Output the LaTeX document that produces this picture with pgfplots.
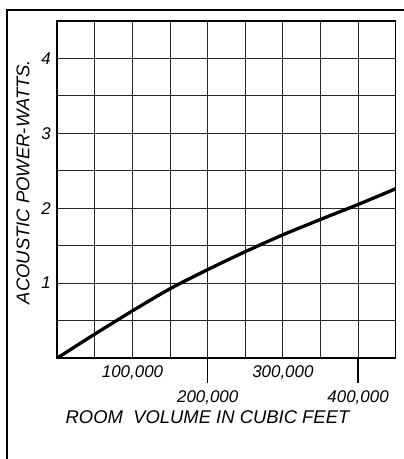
\documentclass[border=0pt]{standalone}
\usepackage{fontspec}
\setmainfont{Liberation Sans}
\usepackage{pgfplots}
\pgfplotsset{compat=1.18}
\begin{document}
\begin{tikzpicture}
\path[use as bounding box] (0,0) rectangle (404bp,459bp);
\fill[white] (0,0) rectangle (404bp,459bp);
\draw[line width=2bp] (7bp,0) -- (7bp,449bp) -- (404bp,449bp);
\begin{axis}[
  at={(57.3bp,101bp)}, anchor=south west,
  scale only axis, width=338.4bp, height=337bp,
  xmin=0, xmax=450000, ymin=0, ymax=4.5,
  scaled x ticks=false, scaled y ticks=false,
  xtick={0,50000,100000,150000,200000,250000,300000,350000,400000,450000},
  xticklabels={{},{},{100,000},{},{},{},{300,000},{},{},{}},
  ytick={0,0.5,1,1.5,2,2.5,3,3.5,4,4.5},
  yticklabels={{},{},1,{},2,{},3,{},4,{}},
  extra x ticks={200000,400000},
  extra x tick labels={{200,000},{400,000}},
  extra x tick style={major tick length=25bp, tick style={line width=1.2bp, black}, grid=major},
  tick align=outside, major tick length=0pt,
  xtick pos=bottom, ytick pos=left,
  tick label style={font=\itshape\fontsize{17}{17}\selectfont},
  xticklabel style={yshift=-4bp},
  yticklabel style={xshift=-3bp},
  grid=major,
  grid style={black!85, line width=1bp},
  axis line style={line width=1.6bp},
  xlabel={ROOM\ \ VOLUME\ IN\ CUBIC\ FEET},
  xlabel style={at={(axis description cs:0.4439,-0.177)}, anchor=center, font=\itshape\fontsize{18.5}{18.5}\selectfont},
  ylabel={ACOUSTIC POWER-WATTS.},
  ylabel style={at={(axis description cs:-0.1014,0.522)}, anchor=center, font=\itshape\fontsize{18.5}{18.5}\selectfont},
]
\addplot[line width=3.3bp, black, smooth, line cap=round] coordinates {
  (0,0) (50000,0.32) (100000,0.63) (150000,0.925)
  (200000,1.18) (250000,1.42) (300000,1.645) (350000,1.85)
  (400000,2.05) (450000,2.26)
};
\end{axis}
\end{tikzpicture}
\end{document}
